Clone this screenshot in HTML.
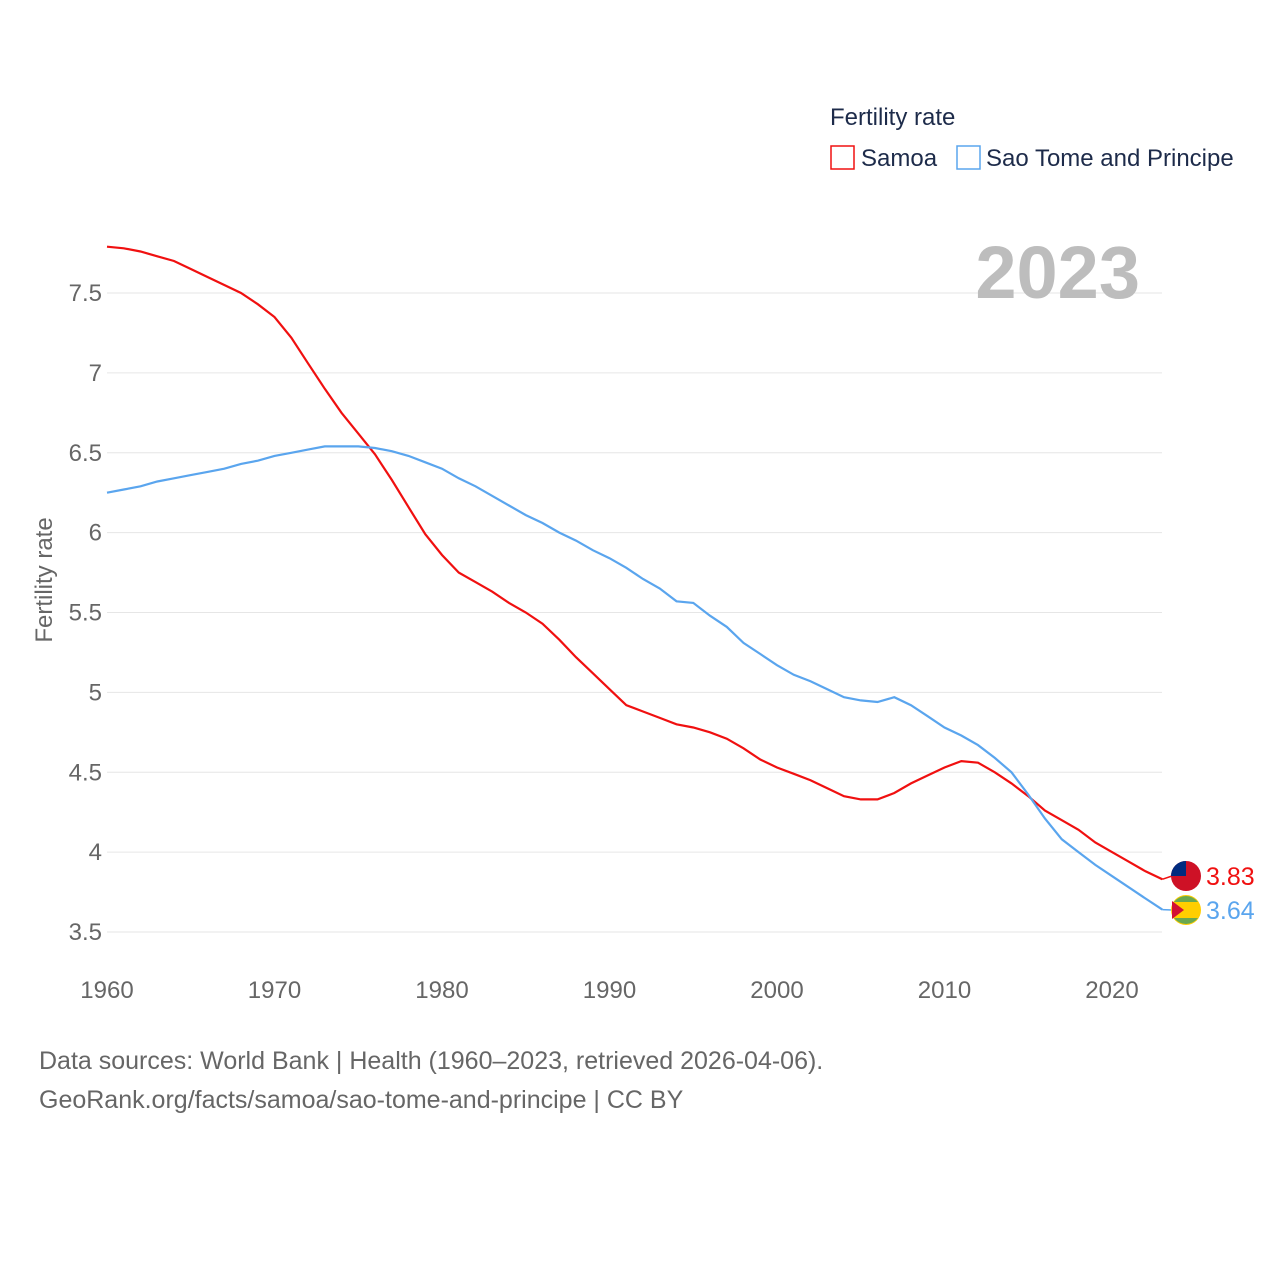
<!DOCTYPE html>
<html><head><meta charset="utf-8"><style>
body{margin:0;background:#fff;font-family:"Liberation Sans",sans-serif;}
svg text{font-family:"Liberation Sans",sans-serif;}
</style></head><body>
<svg id="chart" width="1280" height="1280" viewBox="0 0 1280 1280">
<rect width="1280" height="1280" fill="#fff"/>
<g id="grid"></g>
<g id="yticks"></g>
<g id="xticks"></g>
<text x="1140" y="298" text-anchor="end" font-size="74" font-weight="bold" fill="#bdbdbd">2023</text>
<text x="52" y="580" transform="rotate(-90 52 580)" text-anchor="middle" font-size="24" fill="#666">Fertility rate</text>
<g>
<text x="830" y="125" font-size="24" fill="#1d2b4a">Fertility rate</text>
<g><rect x="831" y="146" width="23" height="23" fill="none" stroke="#f01010" stroke-width="1.5"/><text x="861" y="166" font-size="24" fill="#1d2b4a">Samoa</text></g>
<g><rect x="957" y="146" width="23" height="23" fill="none" stroke="#5aa5ee" stroke-width="1.5"/><text x="986" y="166" font-size="24" fill="#1d2b4a">Sao Tome and Principe</text></g>
</g>
<g id="series"></g>
<text x="39" y="1069" font-size="25" fill="#666">Data sources: World Bank | Health (1960–2023, retrieved 2026-04-06).</text>
<text x="39" y="1108" font-size="25" fill="#666">GeoRank.org/facts/samoa/sao-tome-and-principe | CC BY</text>
</svg>
<script>
const years=[];for(let y=1960;y<=2023;y++)years.push(y);
const samoa=[7.79,7.78,7.76,7.73,7.70,7.65,7.60,7.55,7.50,7.43,7.35,7.22,7.06,6.90,6.75,6.62,6.49,6.33,6.16,5.99,5.86,5.75,5.69,5.63,5.56,5.50,5.43,5.33,5.22,5.12,5.02,4.92,4.88,4.84,4.80,4.78,4.75,4.71,4.65,4.58,4.53,4.49,4.45,4.40,4.35,4.33,4.33,4.37,4.43,4.48,4.53,4.57,4.56,4.50,4.43,4.35,4.26,4.20,4.14,4.06,4.00,3.94,3.88,3.83];
const stp=[6.25,6.27,6.29,6.32,6.34,6.36,6.38,6.40,6.43,6.45,6.48,6.50,6.52,6.54,6.54,6.54,6.53,6.51,6.48,6.44,6.40,6.34,6.29,6.23,6.17,6.11,6.06,6.00,5.95,5.89,5.84,5.78,5.71,5.65,5.57,5.56,5.48,5.41,5.31,5.24,5.17,5.11,5.07,5.02,4.97,4.95,4.94,4.97,4.92,4.85,4.78,4.73,4.67,4.59,4.50,4.36,4.21,4.08,4.00,3.92,3.85,3.78,3.71,3.64];
const yTicks=[3.5,4,4.5,5,5.5,6,6.5,7,7.5];
const yTickLabels=["3.5","4","4.5","5","5.5","6","6.5","7","7.5"];
const xTicks=[1960,1970,1980,1990,2000,2010,2020];
const X=y=>107+(y-1960)*16.75;
const Y=v=>932-(v-3.5)*159.75;
const NS="http://www.w3.org/2000/svg";
function mk(tag,attrs,parent){const e=document.createElementNS(NS,tag);for(const k in attrs)e.setAttribute(k,attrs[k]);parent.appendChild(e);return e;}
const grid=document.getElementById('grid'),yt=document.getElementById('yticks'),xt=document.getElementById('xticks'),ser=document.getElementById('series');
yTicks.forEach((v,i)=>{
 const l=mk('line',{x1:107,x2:1162,y1:Y(v),y2:Y(v),stroke:'#e6e6e6','stroke-width':1},grid);
 
 
 const t=mk('text',{x:102,y:Y(v)+8,'text-anchor':'end','font-size':24,fill:'#666'},yt);
 t.textContent=yTickLabels[i];
 
 
});
xTicks.forEach(v=>{
 const t=mk('text',{x:X(v),y:998,'text-anchor':'middle','font-size':24,fill:'#666'},xt);
 t.textContent=v;
 
 
});
function line(data,color,name){
 const d=data.map((v,i)=>(i?'L':'M')+X(years[i]).toFixed(1)+' '+Y(v).toFixed(1)).join(' ');
 const p=mk('path',{d:d,fill:'none',stroke:color,'stroke-width':2.2},ser);
 
 
 const last=data[data.length-1],lx=X(years[years.length-1]),ly=Y(last);
 return {lx,ly,last};
}
const a=line(samoa,'#f01010','samoa');
const b=line(stp,'#5aa5ee','sao-tome');
function flag(cy,type,lx,ly,color,val){
 mk('line',{x1:lx,y1:ly,x2:1172,y2:cy,stroke:color,'stroke-width':1.5},ser);
 const g=mk('g',{},ser);
 
 
 if(type==='samoa'){
  mk('circle',{cx:1186,cy:cy,r:15,fill:'#ce1126'},g);
  mk('path',{d:`M1171 ${cy} A15 15 0 0 1 1186 ${cy-15} L1186 ${cy} Z`,fill:'#002b7f'},g);
 }else{
  mk('circle',{cx:1186,cy:cy,r:15,fill:'#ffce00'},g);
  mk('path',{d:`M1174 ${cy-8} A15 15 0 0 1 1198 ${cy-8} Z`,fill:'#6aa84f'},g);
  mk('path',{d:`M1174 ${cy+8} A15 15 0 0 0 1198 ${cy+8} Z`,fill:'#6aa84f'},g);
  mk('path',{d:`M1172 ${cy-9} L1184 ${cy} L1172 ${cy+9} Z`,fill:'#d21034'},g);
 }
 const t=mk('text',{x:1206,y:cy+9,'font-size':25,fill:color},ser);
 t.textContent=val.toFixed(2);
 
 
}
flag(876,'samoa',a.lx,a.ly,'#f01010',a.last);
flag(910,'sao-tome',b.lx,b.ly,'#5aa5ee',b.last);
</script>
</body></html>
